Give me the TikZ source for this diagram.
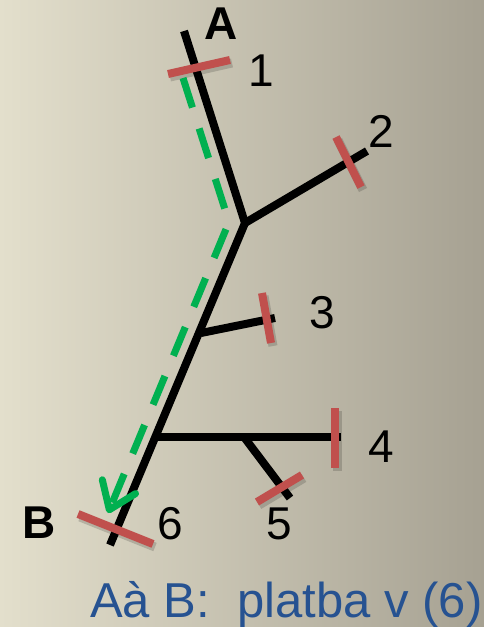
\documentclass[tikz,border=0pt]{standalone}
\usepackage{fontspec}
\setmainfont{Liberation Sans}
\usetikzlibrary{arrows.meta}
\definecolor{tickred}{RGB}{192,80,77}
\definecolor{pathgreen}{RGB}{0,176,80}
\definecolor{captionblue}{RGB}{38,82,145}
\definecolor{bgleft}{RGB}{227,223,204}
\definecolor{bgright}{RGB}{166,161,146}
\tikzset{
  branch/.style={line width=8pt, black, line cap=butt, line join=miter},
  tick/.style={line width=8pt, tickred, line cap=butt},
  tickshadow/.style={line width=9pt, black, opacity=0.16, line cap=butt},
  route/.style={line width=7pt, pathgreen, dash pattern=on 31pt off 22pt,
     -{Straight Barb[length=25pt,width=36pt,line width=7pt,round]}},
  num/.style={font=\fontsize{46}{46}\selectfont, inner sep=0pt, anchor=center},
  endlabel/.style={font=\fontsize{46}{46}\selectfont\bfseries, inner sep=0pt, anchor=center},
  caption/.style={font=\fontsize{49}{49}\selectfont, text=captionblue, inner sep=0pt, anchor=base west}
}
\begin{document}
\begin{tikzpicture}[x=1pt,y=-1pt]
\useasboundingbox (0,0) rectangle (484,627);
\shade[left color=bgleft, right color=bgright] (0,0) rectangle (484,627);
% tree coordinates
\coordinate (top) at (184,31);
\coordinate (j1) at (245,223);
\coordinate (j3) at (201,333);
\coordinate (j4) at (157,437);
\coordinate (j5) at (244,437);
\coordinate (bot) at (110,545);
\coordinate (e2) at (367,151);
\coordinate (e3) at (275,318);
\coordinate (e4) at (341,437);
\coordinate (e5) at (290,498);
% tick coordinates
\coordinate (t1a) at (168,74);  \coordinate (t1b) at (230,60);
\coordinate (t2a) at (336,137); \coordinate (t2b) at (361,187);
\coordinate (t3a) at (262,293); \coordinate (t3b) at (271,343);
\coordinate (t4a) at (335,408); \coordinate (t4b) at (335,468);
\coordinate (t5a) at (257,502); \coordinate (t5b) at (302,475);
\coordinate (t6a) at (78,514);  \coordinate (t6b) at (153,544);
% route coordinates
\coordinate (r0) at (183,78);
\coordinate (r1) at (229,222);
\coordinate (r2) at (108,513);
% black tree
\draw[branch] (top) -- (j1) -- (bot);
\draw[branch] (j1) -- (e2);
\draw[branch] (j3) -- (e3);
\draw[branch] (j4) -- (e4);
\draw[branch] (j5) -- (e5);
% red ticks with shadows
\begin{scope}[transform canvas={shift={(2pt,-3pt)}}]
  \foreach \a/\b in {t1a/t1b,t2a/t2b,t3a/t3b,t4a/t4b,t5a/t5b,t6a/t6b}
    \draw[tickshadow] (\a) -- (\b);
\end{scope}
\foreach \a/\b in {t1a/t1b,t2a/t2b,t3a/t3b,t4a/t4b,t5a/t5b,t6a/t6b}
  \draw[tick] (\a) -- (\b);
% green route
\draw[route] (r0) -- (r1) -- (r2);
% labels
\node[endlabel] (lA) at (221,24) {A};
\node[endlabel] (lB) at (39,523) {B};
\node[num] (l1) at (261,71) {1};
\node[num] (l2) at (381,131) {2};
\node[num] (l3) at (322,313) {3};
\node[num] (l4) at (381,447) {4};
\node[num] (l5) at (279,524) {5};
\node[num] (l6) at (170,524) {6};
\node[caption] (cap) at (90,617) {Aà B:\ \ platba v (6)};
\end{tikzpicture}
\end{document}
